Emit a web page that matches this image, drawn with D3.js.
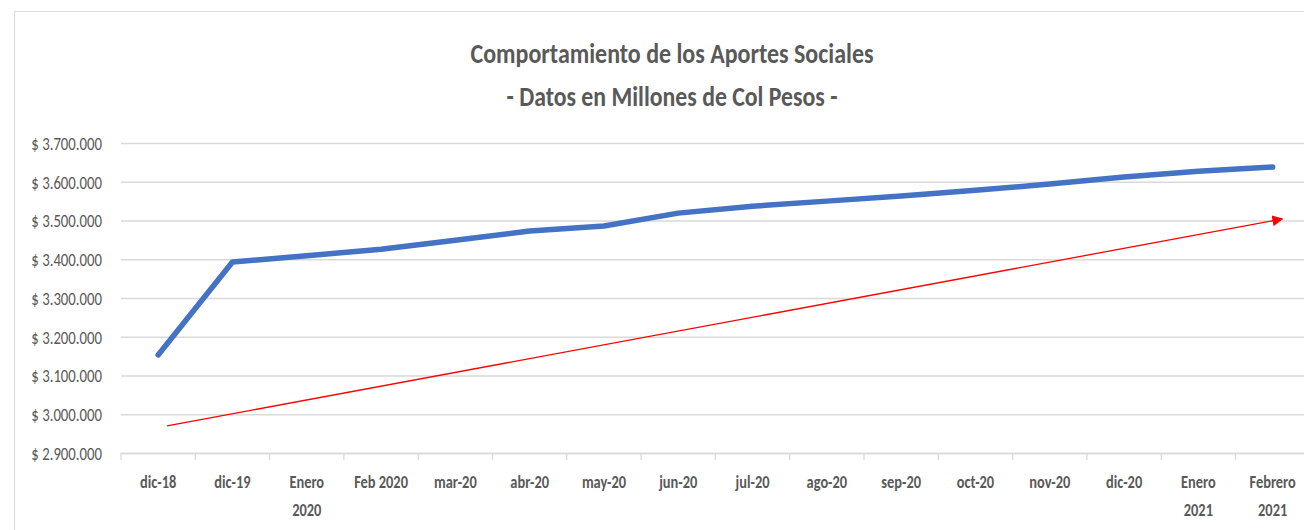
<!DOCTYPE html>
<html>
<head>
<meta charset="utf-8">
<script src="https://cdn.jsdelivr.net/npm/d3@7"></script>
<style>
	body { margin: 0; background: #fff; }
	svg { display: block; }
	.titulo { font-weight: bold; fill: #595959; }
	.eje text { fill: #595959; }
</style>
</head>
<body>
<svg width="1304" height="530"></svg>
<script>
	// meses (las etiquetas con \n van en dos lineas, como en Excel)
	var categorias = ["dic-18", "dic-19", "Enero\n2020", "Feb 2020", "mar-20", "abr-20", "may-20", "jun-20",
		"jul-20", "ago-20", "sep-20", "oct-20", "nov-20", "dic-20", "Enero\n2021", "Febrero\n2021"];
	// aportes sociales (millones de pesos)
	var aportes = [3153000, 3393000, 3409000, 3426000, 3449000, 3473000, 3486000, 3519000,
		3537000, 3550000, 3563000, 3578000, 3594000, 3612000, 3627000, 3638000];
	var yTicks = [2900000, 3000000, 3100000, 3200000, 3300000, 3400000, 3500000, 3600000, 3700000];
	// flecha roja de tendencia: posicion en categorias (indice) y valor
	var flechaIdx = [0.12, 15.13];
	var flechaVal = [2970000, 3504000];
	var titulo = ["Comportamiento de los Aportes Sociales", "- Datos en Millones de Col Pesos -"];

	var fuente = "Carlito, 'Liberation Sans Narrow', 'DejaVu Sans Condensed', sans-serif";

	// el grafico original esta algo comprimido a lo ancho
	function comprimir(sel, k) {
		sel.each(function() {
			var L = this.getComputedTextLength();
			d3.select(this).attr("textLength", L * k).attr("lengthAdjust", "spacingAndGlyphs");
		});
	}

	var svg = d3.select("svg"),
		margin = {top: 143, left: 121, bottom: 77},
		height = 530 - margin.top - margin.bottom,
		width = 74.3 * categorias.length;

	svg.append("rect")
		.attr("x", 14.5).attr("y", 11.5)
		.attr("width", 1400).attr("height", 700)
		.attr("fill", "#fff").attr("stroke", "#d9d9d9");

	var g = svg.append("g").attr("transform", "translate(" + margin.left + "," + margin.top + ")");

	var x = d3.scaleBand().domain(categorias).range([0, width]);
	var xi = d3.scaleLinear().domain([-0.5, categorias.length - 0.5]).range([0, width]);
	var y = d3.scaleLinear().domain([2900000, 3700000]).range([height, 0]);

	var loc = d3.formatLocale({decimal: ",", thousands: ".", grouping: [3], currency: ["$ ", ""]});
	var fmt = loc.format("$,.0f");

	// titulo
	svg.append("g").selectAll("text")
		.data(titulo).enter().append("text")
		.attr("class", "titulo")
		.attr("x", 672)
		.attr("y", function(d, i) { return 63 + i * 43; })
		.attr("text-anchor", "middle")
		.style("font-family", fuente)
		.style("font-size", "29px")
		.attr("textLength", function(d, i) { return i == 0 ? 403 : 331; })
		.attr("lengthAdjust", "spacingAndGlyphs")
		.text(function(d) { return d; });

	// rejilla + eje y
	var yAxis = d3.axisLeft(y).tickValues(yTicks).tickFormat(fmt).tickSize(-width).tickPadding(19);
	g.append("g").attr("class", "eje")
		.call(yAxis)
		.call(function(s) {
			s.select(".domain").remove();
			s.selectAll(".tick line").attr("stroke", "#d9d9d9").attr("stroke-width", 1.3);
			s.selectAll(".tick text").attr("dy", "0.36em").style("font-family", fuente).style("font-size", "18px");
			comprimir(s.selectAll(".tick text"), 0.82);
		});

	// eje x
	var xAxis = d3.axisBottom(x).tickSize(0).tickFormat("");
	var gx = g.append("g").attr("class", "eje")
		.attr("transform", "translate(0," + height + ")")
		.call(xAxis);
	gx.select(".domain").attr("stroke", "#d9d9d9").attr("stroke-width", 1.3);
	gx.selectAll(".sep").data(d3.range(categorias.length + 1)).enter().append("line")
		.attr("class", "sep")
		.attr("x1", function(d) { return xi(d - 0.5); })
		.attr("x2", function(d) { return xi(d - 0.5); })
		.attr("y1", 0).attr("y2", 7)
		.attr("stroke", "#d9d9d9").attr("stroke-width", 1.3);
	gx.selectAll(".tick").each(function(d) {
		var t = d3.select(this).append("text")
			.attr("y", 35)
			.attr("text-anchor", "middle")
			.style("font-family", fuente)
			.style("font-size", "18px")
			.style("font-weight", "bold")
			.attr("fill", "#595959");
		d.split("\n").forEach(function(l, i) {
			t.append("tspan").attr("x", 0).attr("dy", i == 0 ? 0 : 28).text(l);
		});
	});
	comprimir(gx.selectAll(".tick tspan"), 0.8);

	// linea de aportes
	var linea = d3.line()
		.x(function(d, i) { return x(categorias[i]) + x.bandwidth() / 2; })
		.y(function(d) { return y(d); });
	g.append("path")
		.datum(aportes)
		.attr("d", linea)
		.attr("fill", "none")
		.attr("stroke", "#4472C4")
		.attr("stroke-width", 5.5)
		.attr("stroke-linejoin", "round")
		.attr("stroke-linecap", "round");

	// flecha roja
	svg.append("defs").append("marker")
		.attr("id", "punta")
		.attr("viewBox", "0 0 10 10")
		.attr("refX", 9).attr("refY", 5)
		.attr("markerWidth", 11).attr("markerHeight", 11)
		.attr("markerUnits", "userSpaceOnUse")
		.attr("orient", "auto")
		.append("path").attr("d", "M0,0L10,5L0,10z").attr("fill", "#ff0000");
	g.append("line")
		.attr("x1", xi(flechaIdx[0])).attr("y1", y(flechaVal[0]))
		.attr("x2", xi(flechaIdx[1])).attr("y2", y(flechaVal[1]))
		.attr("stroke", "#ff0000")
		.attr("stroke-width", 1.3)
		.attr("marker-end", "url(#punta)");
</script>
</body>
</html>
